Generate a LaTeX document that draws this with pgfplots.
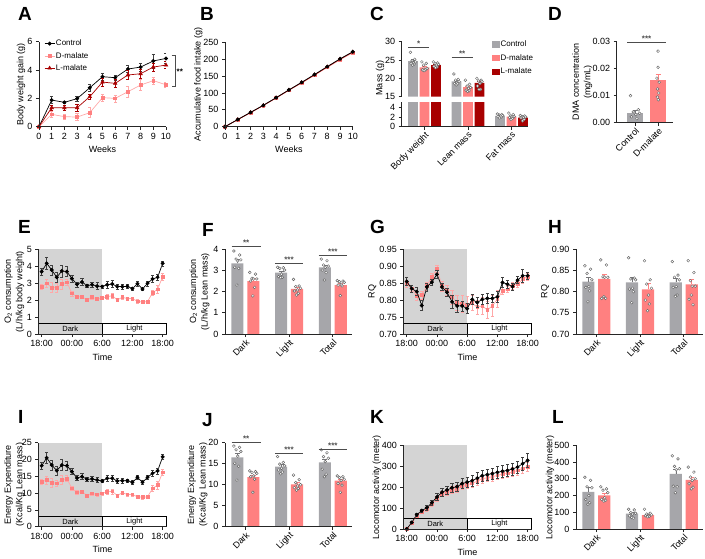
\documentclass[border=0pt]{standalone}
\usepackage{fontspec}
\setmainfont{Liberation Sans}
\usepackage{pgfplots}
\usepackage{pgfplotstable}
\pgfplotsset{compat=1.18}

\definecolor{cgrey}{RGB}{166,166,170}
\definecolor{cpink}{RGB}{255,128,128}
\definecolor{cpinkl}{RGB}{255,168,168}
\definecolor{cred}{RGB}{168,0,0}
\definecolor{cshade}{RGB}{212,212,212}

\pgfplotsset{
  gp/.style={scale only axis, axis lines*=left, axis on top, enlargelimits=false,
    axis line style={line width=0.8pt, black!85},
    tick style={line width=0.8pt, black!85},
    major tick length=3pt, tick align=outside,
    tick label style={font=\fontsize{9}{10}\selectfont},
    label style={font=\fontsize{9}{11.5}\selectfont, align=center},
    /pgf/number format/assume math mode=true,
    clip mode=individual},
  yl/.style={ylabel style={at={([xshift=-#1]rel axis cs:0,0.5)}, anchor=center}},
  tl/.style={xmin=-0.67, xmax=24.8, width=128.4pt, xtick={0,6,12,18,24},
    xticklabels={18:00,00:00,6:00,12:00,18:00}, xlabel={Time}},
  barax/.style={xmin=-0.465, xmax=2.44, width=127pt, xtick={0,1,2},
    xticklabels={Dark,Light,Total}, xticklabel style={rotate=45, anchor=north east, inner sep=1pt}},
  gbar/.style={ybar, bar shift=0pt, bar width=#1, draw=none, forget plot},
  berr/.style={/pgfplots/error bars/y dir=plus, /pgfplots/error bars/y explicit,
    /pgfplots/error bars/error bar style={line width=0.6pt, #1},
    /pgfplots/error bars/error mark options={rotate=90, mark size=2.5pt, line width=0.6pt, #1}},
  pts/.style={only marks, mark=*, mark size=1.4pt, mark options={fill=white, draw=black!60, line width=0.45pt}, forget plot},
  ctrl/.style={black, line width=0.7pt, mark=*, mark size=1.6pt, mark options={solid, fill=black},
    /pgfplots/error bars/y dir=both, /pgfplots/error bars/y explicit,
    /pgfplots/error bars/error bar style={line width=0.5pt, black!75},
    /pgfplots/error bars/error mark options={rotate=90, mark size=1.6pt, line width=0.5pt, black!75}},
  dmal/.style={cpinkl, line width=0.7pt, mark=square*, mark size=1.4pt, mark options={solid, fill=cpink, draw=cpink},
    /pgfplots/error bars/y dir=both, /pgfplots/error bars/y explicit,
    /pgfplots/error bars/error bar style={line width=0.5pt, cpinkl},
    /pgfplots/error bars/error mark options={rotate=90, mark size=1.6pt, line width=0.5pt, cpinkl}},
  lmal/.style={cred, line width=0.7pt, mark=triangle*, mark size=1.9pt, mark options={solid, fill=cred, draw=cred},
    /pgfplots/error bars/y dir=both, /pgfplots/error bars/y explicit,
    /pgfplots/error bars/error bar style={line width=0.5pt, cred},
    /pgfplots/error bars/error mark options={rotate=90, mark size=1.6pt, line width=0.5pt, cred}},
}

\newcommand{\sig}[4]{\draw[line width=0.6pt, black!70] (axis cs:#1,#3) -- (axis cs:#2,#3) node[midway, above, inner sep=0.5pt, font=\fontsize{8}{8}\selectfont\bfseries] {#4};}
\newcommand{\dlbox}[4]{%
  \fill[cshade] (axis cs:-0.67,#2) rectangle (axis cs:12,#3);
  \draw[line width=0.7pt, fill=cshade] (axis cs:-0.67,#1) rectangle (axis cs:12,#2);
  \draw[line width=0.7pt, fill=white] (axis cs:12,#1) rectangle (axis cs:24.8,#2);
  \node[font=\fontsize{7.5}{8}\selectfont, inner sep=0pt] at (axis cs:5.67,#4) {Dark};
  \node[font=\fontsize{7.5}{8}\selectfont, inner sep=0pt] at (axis cs:18.4,#4) {Light};}

\pgfplotstableread{
x c ce d de l le
0 0 0 0 0 0 0
1 1.88 0.25 0.87 0.2 1.34 0.15
2 1.72 0.10 0.71 0.2 1.34 0.2
3 1.98 0.15 0.68 0.25 1.34 0.25
4 2.75 0.25 0.99 0.35 2.12 0.2
5 3.53 0.25 2.05 0.25 3.15 0.3
6 3.46 0.20 2.00 0.25 3.06 0.3
7 4.07 0.25 2.47 0.4 3.65 0.3
8 4.21 0.30 2.94 0.4 3.74 0.3
9 4.64 0.50 3.25 0.25 4.21 0.3
10 4.82 0.35 2.96 0.2 4.35 0.25
}\tabA

\pgfplotstableread{
x c d l
0 0 0 0
1 21.5 20.8 21.0
2 42.5 41.5 42.0
3 63.5 62.5 63.0
4 86 84.5 85.5
5 109 107.5 108.5
6 131.5 129.5 130.5
7 154.5 152 153.5
8 178 175.5 177
9 201 198 200
10 222 219 221
}\tabB

\pgfplotstableread{
x c ce d de
0 3.68 0.2 2.80 0.15
1 4.17 0.35 2.99 0.25
2 3.78 0.3 2.74 0.3
3 3.35 0.3 2.74 0.25
4 3.72 0.35 2.95 0.3
5 3.68 0.3 3.05 0.2
6 3.27 0.2 2.40 0.15
7 2.93 0.15 2.20 0.1
8 3.07 0.2 2.20 0.1
9 2.85 0.1 2.01 0.1
10 2.91 0.15 2.17 0.1
11 2.83 0.2 2.07 0.1
12 2.80 0.1 2.13 0.1
13 2.91 0.2 2.20 0.15
14 2.95 0.2 2.26 0.15
15 2.80 0.15 2.01 0.1
16 2.80 0.15 2.17 0.1
17 2.81 0.1 2.09 0.1
18 2.68 0.1 2.09 0.1
19 2.97 0.15 1.93 0.1
20 2.66 0.1 1.89 0.1
21 2.99 0.15 1.91 0.1
22 3.25 0.2 2.44 0.15
23 3.35 0.2 2.64 0.25
24 4.17 0.15 3.39 0.2
}\tabE

\pgfplotstableread{
x c ce d de
0 0.855 0.012 0.848 0.010
1 0.834 0.010 0.835 0.010
2 0.825 0.012 0.812 0.012
3 0.784 0.015 0.815 0.012
4 0.839 0.012 0.842 0.012
5 0.853 0.010 0.869 0.010
6 0.876 0.012 0.893 0.010
7 0.839 0.010 0.842 0.015
8 0.823 0.012 0.830 0.015
9 0.795 0.018 0.808 0.020
10 0.783 0.018 0.793 0.022
11 0.783 0.015 0.788 0.025
12 0.775 0.015 0.786 0.025
13 0.802 0.015 0.791 0.022
14 0.793 0.015 0.779 0.020
15 0.802 0.015 0.783 0.025
16 0.805 0.015 0.771 0.025
17 0.805 0.012 0.783 0.030
18 0.810 0.015 0.803 0.025
19 0.852 0.015 0.827 0.010
20 0.847 0.012 0.832 0.010
21 0.840 0.010 0.842 0.010
22 0.859 0.010 0.847 0.010
23 0.872 0.020 0.862 0.012
24 0.872 0.010 0.869 0.010
}\tabG

\pgfplotstableread{
x c ce d de
0 18.15 1.0 13.4 0.7
1 20.5 1.6 13.9 1.2
2 18.35 1.5 13.1 1.3
3 16.7 1.4 12.9 1.0
4 18.35 1.6 13.9 1.4
5 18.15 1.4 14.3 0.9
6 16.4 0.9 11.4 0.7
7 14.5 0.8 10.2 0.5
8 14.9 0.9 10.4 0.5
9 14.1 0.5 9.3 0.5
10 14.2 0.7 9.9 0.5
11 13.9 0.8 9.6 0.5
12 13.6 0.5 9.9 0.5
13 14.4 0.9 10.4 0.7
14 14.4 0.9 10.5 0.7
15 13.6 0.7 9.3 0.5
16 13.7 0.7 10.1 0.5
17 13.7 0.5 9.6 0.5
18 13.2 0.5 9.6 0.5
19 14.7 0.7 8.9 0.5
20 13.2 0.5 8.8 0.5
21 14.7 0.7 8.9 0.5
22 15.9 0.9 11.4 0.8
23 16.6 0.9 12.4 1.2
24 20.8 0.8 16.2 0.9
}\tabI

\pgfplotstableread{
x c ce d de
0 0 0 0 0
1 31 4 30 3
2 68 6 64 5
3 88 8 82 6
4 102 10 95 8
5 126 13 118 10
6 153 16 145 12
7 176 18 168 13
8 186 20 177 14
9 197 22 187 15
10 202 23 192 16
11 217 24 206 17
12 224 25 212 17
13 231 25 218 18
14 243 26 229 18
15 255 26 240 19
16 260 27 245 19
17 265 27 250 20
18 271 27 256 20
19 276 28 262 21
20 280 28 266 21
21 287 29 272 21
22 296 30 280 22
23 312 30 290 23
24 328 32 298 23
}\tabK

\begin{document}
\begin{tikzpicture}
\useasboundingbox (0pt,0pt) rectangle (705pt,558pt);

% ---------------- A
\begin{axis}[gp, yl=18pt, at={(39pt,431.3pt)}, anchor=south west, width=127pt, height=85pt,
  xmin=0, xmax=10, ymin=0, ymax=6, xtick={0,...,10}, ytick={0,2,4,6},
  xlabel={Weeks}, ylabel={Body weight gain (g)},
  legend style={at={(0.04,1.035)}, anchor=north west, draw=none, fill=none,
    font=\fontsize{8}{8.5}\selectfont, row sep=3pt, inner sep=0pt, nodes={inner sep=1pt}},
  legend cell align=left,
  legend image code/.code={\draw[mark repeat=2,mark phase=2,#1] plot coordinates {(0pt,0pt) (5pt,0pt) (10pt,0pt)};}]
\addplot[ctrl] table[x=x,y=c,y error=ce]{\tabA}; \addlegendentry{Control}
\addplot[dmal] table[x=x,y=d,y error=de]{\tabA}; \addlegendentry{D-malate}
\addplot[lmal] table[x=x,y=l,y error=le]{\tabA}; \addlegendentry{L-malate}
\draw[line width=0.6pt, black!70] (axis cs:10.45,5.06) -- (axis cs:10.7,5.06) -- (axis cs:10.7,2.87) -- (axis cs:10.45,2.87);
\node[anchor=west, inner sep=1pt, font=\fontsize{8}{8}\selectfont\bfseries] at (axis cs:10.75,3.9) {**};
\end{axis}

% ---------------- B
\begin{axis}[gp, yl=26.7pt, at={(225pt,431.3pt)}, anchor=south west, width=127.8pt, height=84.4pt,
  xmin=0, xmax=10, ymin=0, ymax=250, xtick={0,...,10}, ytick={0,50,...,250},
  xlabel={Weeks}, ylabel={Accumulative food intake (g)}]
\addplot[cpinkl, line width=0.7pt, mark=square*, mark size=1.4pt, mark options={fill=cpink, draw=cpink}] table[x=x,y=d]{\tabB};
\addplot[cred, line width=0.7pt, mark=triangle*, mark size=1.8pt, mark options={fill=cred}] table[x=x,y=l]{\tabB};
\addplot[black, line width=0.7pt, mark=*, mark size=1.6pt] table[x=x,y=c]{\tabB};
\end{axis}

% ---------------- C lower
\begin{axis}[gp, at={(401.7pt,431.3pt)}, anchor=south west, width=126.3pt, height=24.3pt,
  xmin=-0.524, xmax=2.38, ymin=0, ymax=5, ytick={0,2,4}, xtick={0,1,2},
  xticklabels={Body weight, Lean mass, Fat mass},
  xticklabel style={rotate=45, anchor=north east, inner sep=1pt}]
\addplot[gbar=0.223, fill=cgrey, berr=cgrey!70!black] coordinates {(-0.264,24.7) +- (0,0.4) (0.736,19.2) +- (0,0.35) (1.736,2.24) +- (0,0.1)};
\addplot[gbar=0.223, fill=cpink, berr=cpink] coordinates {(0,23.0) +- (0,0.3) (1,17.6) +- (0,0.35) (2,2.09) +- (0,0.15)};
\addplot[gbar=0.223, fill=cred, berr=cred] coordinates {(0.264,23.6) +- (0,0.2) (1.264,18.8) +- (0,0.4) (2.264,1.88) +- (0,0.12)};
\addplot[pts] coordinates {(1.676,2.6) (1.776,2.5) (1.716,2.4) (1.796,2.3) (1.746,2.2) (1.691,2.1) (1.761,2.0) (1.726,1.8)
  (1.94,2.8) (2.04,2.5) (1.98,2.2) (2.06,2.1) (2.01,2.0) (1.955,1.9) (2.025,1.7) (1.99,1.5)
  (2.204,2.3) (2.304,2.2) (2.244,2.1) (2.324,2.0) (2.274,1.9) (2.219,1.8) (2.289,1.5) (2.254,1.2)};
\end{axis}

% ---------------- C upper
\begin{axis}[gp, axis x line=none, axis y line*=left, at={(401.7pt,461.3pt)}, anchor=south west, width=126.3pt, height=55pt,
  xmin=-0.524, xmax=2.38, ymin=15, ymax=30, ytick={15,20,25,30},
  ylabel={Mass (g)}, ylabel style={at={([xshift=-21.7pt]rel axis cs:0,0.34)}, anchor=center},
  legend style={at={(0.715,1.045)}, anchor=north west, draw=none, fill=none,
    font=\fontsize{8}{8.5}\selectfont, row sep=4.5pt, inner sep=0pt, nodes={inner sep=1pt}},
  legend cell align=left]
\addlegendimage{legend image code/.code={\fill[cgrey] (0pt,-2.8pt) rectangle (7pt,2.8pt);}}
\addlegendentry{Control}
\addlegendimage{legend image code/.code={\fill[cpink] (0pt,-2.8pt) rectangle (7pt,2.8pt);}}
\addlegendentry{D-malate}
\addlegendimage{legend image code/.code={\fill[cred] (0pt,-2.8pt) rectangle (7pt,2.8pt);}}
\addlegendentry{L-malate}
\addplot[gbar=0.223, fill=cgrey, berr=cgrey!70!black] coordinates {(-0.264,24.7) +- (0,0.4) (0.736,19.2) +- (0,0.35)};
\addplot[gbar=0.223, fill=cpink, berr=cpink] coordinates {(0,23.0) +- (0,0.3) (1,17.6) +- (0,0.35)};
\addplot[gbar=0.223, fill=cred, berr=cred] coordinates {(0.264,23.6) +- (0,0.2) (1.264,18.8) +- (0,0.4)};
\addplot[pts] coordinates {(-0.324,27.1) (-0.224,25.2) (-0.284,24.8) (-0.204,24.5) (-0.254,24.3) (-0.309,24.1) (-0.239,23.9) (-0.274,23.6)
  (-0.06,24.5) (0.04,24.1) (-0.02,23.6) (0.06,22.7) (0.01,22.5) (-0.045,22.3) (0.025,22.3) (-0.01,22.1)
  (0.204,24.5) (0.304,24.2) (0.244,24.0) (0.324,23.8) (0.274,23.6) (0.219,23.3) (0.289,23.1) (0.254,22.9)
  (0.676,21.2) (0.776,19.7) (0.716,19.5) (0.796,19.1) (0.746,18.8) (0.691,18.6) (0.761,18.5) (0.726,18.2)
  (0.94,19.5) (1.04,18.4) (0.98,17.9) (1.06,17.5) (1.01,17.3) (0.955,16.8) (1.025,16.6) (0.99,16.4)
  (1.204,20.0) (1.304,19.5) (1.244,19.3) (1.324,19.1) (1.274,18.6) (1.219,17.9) (1.289,17.0) (1.254,17.0)};
\sig{-0.375}{0.111}{28.45}{*}
\sig{0.625}{1.111}{25.7}{**}
\end{axis}

% ---------------- D
\begin{axis}[gp, yl=34.5pt, at={(616.7pt,435.3pt)}, anchor=south west, width=56.3pt, height=81pt,
  xmin=-0.8, xmax=1.65, ymin=0, ymax=0.03, ytick={0,0.01,0.02,0.03}, scaled y ticks=false,
  yticklabel style={/pgf/number format/.cd, fixed, fixed zerofill, precision=2},
  xtick={0,1}, xticklabels={Control, D-malate},
  xticklabel style={rotate=45, anchor=north east, inner sep=1pt},
  ylabel={DMA concentration\\(mg/mL)}]
\addplot[gbar=0.7, fill=cgrey, berr=cgrey!70!black] coordinates {(0,0.0035) +- (0,0.0012)};
\addplot[gbar=0.7, fill=cpink, berr=cpink] coordinates {(1,0.0158) +- (0,0.0020)};
\addplot[pts] coordinates {(-0.2,0.010) (0.14,0.0048) (-0.08,0.0040) (0.2,0.0035) (0.03,0.0030) (-0.16,0.0022) (0.08,0.0015) (-0.03,-0.0009)
  (1.0,0.0265) (1.0,0.0205) (0.95,0.0165) (1.05,0.0150) (0.98,0.0125) (1.03,0.0110) (0.97,0.0095) (1.01,0.0085)};
\sig{-0.35}{1.35}{0.0299}{***}
\end{axis}

% ---------------- E
\begin{axis}[gp, tl, yl=24pt, at={(38.3pt,224pt)}, anchor=south west, height=84.7pt,
  ymin=0, ymax=5, ytick={0,...,5},
  ylabel={O\textsubscript{2} consumption\\(L/h/kg body weight)}]
\dlbox{0}{0.6}{5}{0.3}
\addplot[dmal] table[x=x,y=d,y error=de]{\tabE};
\addplot[ctrl] table[x=x,y=c,y error=ce]{\tabE};
\end{axis}

% ---------------- F
\begin{axis}[gp, barax, yl=25.5pt, at={(225pt,224pt)}, anchor=south west, height=84.7pt,
  ymin=0, ymax=4, ytick={0,...,4},
  ylabel={O\textsubscript{2} consumption\\(L/h/kg Lean mass)}]
\addplot[gbar=0.276, fill=cgrey, berr=cgrey!70!black] coordinates {(-0.182,3.34) +- (0,0.18) (0.818,2.90) +- (0,0.07) (1.818,3.15) +- (0,0.11)};
\addplot[gbar=0.276, fill=cpink, berr=cpink] coordinates {(0.182,2.50) +- (0,0.12) (1.182,2.13) +- (0,0.09) (2.182,2.31) +- (0,0.08)};
\addplot[pts] coordinates {(-0.262,3.92) (-0.132,3.73) (-0.212,3.54) (-0.102,3.50) (-0.172,3.45) (-0.242,3.15) (-0.152,3.10) (-0.192,2.31)
  (0.738,3.15) (0.868,3.13) (0.788,3.10) (0.898,3.02) (0.828,2.82) (0.758,2.71) (0.848,2.68) (0.808,2.66)
  (1.738,3.54) (1.868,3.46) (1.788,3.26) (1.898,3.21) (1.828,3.15) (1.758,3.02) (1.848,2.90) (1.808,2.55)
  (0.102,2.91) (0.232,2.83) (0.152,2.63) (0.262,2.60) (0.192,2.60) (0.122,2.50) (0.212,2.20) (0.172,1.80)
  (1.102,2.58) (1.232,2.27) (1.152,2.24) (1.262,2.16) (1.192,2.08) (1.122,2.03) (1.212,1.92) (1.172,1.84)
  (2.102,2.52) (2.232,2.50) (2.152,2.47) (2.262,2.44) (2.192,2.35) (2.122,2.31) (2.212,2.27) (2.172,1.81)};
\sig{-0.315}{0.352}{4.12}{**}
\sig{0.68}{1.317}{3.34}{***}
\sig{1.676}{2.33}{3.73}{***}
\end{axis}

% ---------------- G
\begin{axis}[gp, tl, yl=31pt, at={(403.3pt,224pt)}, anchor=south west, height=84.7pt,
  ymin=0.7, ymax=0.95, ytick={0.70,0.75,...,0.96},
  yticklabel style={/pgf/number format/.cd, fixed, fixed zerofill, precision=2},
  ylabel={RQ}]
\dlbox{0.7}{0.73}{0.95}{0.715}
\addplot[dmal] table[x=x,y=d,y error=de]{\tabG};
\addplot[ctrl] table[x=x,y=c,y error=ce]{\tabG};
\end{axis}

% ---------------- H
\begin{axis}[gp, barax, yl=31pt, at={(576pt,224pt)}, anchor=south west, height=84.7pt,
  ymin=0.7, ymax=0.9, ytick={0.70,0.75,...,0.91},
  yticklabel style={/pgf/number format/.cd, fixed, fixed zerofill, precision=2},
  ylabel={RQ}]
\addplot[gbar=0.28, fill=cgrey, berr=cgrey!70!black] coordinates {(-0.182,0.8236) +- (0,0.010) (0.818,0.822) +- (0,0.012) (1.818,0.822) +- (0,0.010)};
\addplot[gbar=0.28, fill=cpink, berr=cpink] coordinates {(0.182,0.830) +- (0,0.012) (1.182,0.8055) +- (0,0.014) (2.182,0.817) +- (0,0.012)};
\addplot[pts] coordinates {(-0.262,0.861) (-0.132,0.853) (-0.212,0.843) (-0.102,0.828) (-0.172,0.812) (-0.242,0.810) (-0.152,0.802) (-0.192,0.776)
  (0.738,0.880) (0.868,0.832) (0.788,0.830) (0.898,0.828) (0.828,0.808) (0.758,0.806) (0.848,0.800) (0.808,0.774)
  (1.738,0.871) (1.868,0.839) (1.788,0.834) (1.898,0.828) (1.828,0.812) (1.758,0.810) (1.848,0.792) (1.808,0.789)
  (0.102,0.875) (0.232,0.863) (0.152,0.835) (0.262,0.834) (0.192,0.834) (0.122,0.784) (0.212,0.784) (0.172,0.788)
  (1.102,0.873) (1.232,0.828) (1.152,0.818) (1.262,0.808) (1.192,0.792) (1.122,0.780) (1.212,0.771) (1.172,0.755)
  (2.102,0.873) (2.232,0.845) (2.152,0.826) (2.262,0.813) (2.192,0.813) (2.122,0.782) (2.212,0.769) (2.172,0.792)};
\end{axis}

% ---------------- I
\begin{axis}[gp, tl, yl=24pt, at={(38.3pt,31.3pt)}, anchor=south west, height=84pt,
  ymin=0, ymax=25, ytick={0,5,...,25},
  ylabel={Energy Expenditure\\(Kcal/Kg Lean mass)}]
\dlbox{0}{3}{25}{1.5}
\addplot[dmal] table[x=x,y=d,y error=de]{\tabI};
\addplot[ctrl] table[x=x,y=c,y error=ce]{\tabI};
\end{axis}

% ---------------- J
\begin{axis}[gp, barax, yl=27.5pt, at={(225pt,31.3pt)}, anchor=south west, height=84pt,
  ymin=0, ymax=20, ytick={0,5,...,20},
  ylabel={Energy Expenditure\\(Kcal/Kg Lean mass)}]
\addplot[gbar=0.276, fill=cgrey, berr=cgrey!70!black] coordinates {(-0.182,16.5) +- (0,0.9) (0.818,14.3) +- (0,0.45) (1.818,15.3) +- (0,0.75)};
\addplot[gbar=0.276, fill=cpink, berr=cpink] coordinates {(0.182,11.8) +- (0,0.55) (1.182,10.1) +- (0,0.4) (2.182,10.95) +- (0,0.45)};
\addplot[pts] coordinates {(-0.262,19.2) (-0.132,18.9) (-0.212,18.3) (-0.102,17.9) (-0.172,16.8) (-0.242,15.1) (-0.152,14.4) (-0.192,11.1)
  (0.738,16.7) (0.868,15.3) (0.788,14.9) (0.898,14.5) (0.828,13.9) (0.758,13.5) (0.848,13.0) (0.808,12.6)
  (1.738,18.3) (1.868,17.6) (1.788,16.7) (1.898,16.3) (1.828,15.5) (1.758,13.7) (1.848,12.5) (1.808,11.9)
  (0.102,13.3) (0.232,13.1) (0.152,12.9) (0.262,12.7) (0.192,12.1) (0.122,11.9) (0.212,11.3) (0.172,8.2)
  (1.102,12.3) (1.232,11.2) (1.152,10.5) (1.262,10.0) (1.192,9.7) (1.122,9.3) (1.212,9.1) (1.172,8.7)
  (2.102,12.1) (2.232,11.9) (2.152,11.7) (2.262,11.3) (2.192,11.0) (2.122,10.3) (2.212,9.9) (2.172,8.2)};
\sig{-0.315}{0.352}{20.2}{**}
\sig{0.68}{1.317}{17.5}{***}
\sig{1.676}{2.33}{18.5}{***}
\end{axis}

% ---------------- K
\begin{axis}[gp, tl, yl=26.6pt, at={(403.3pt,29pt)}, anchor=south west, height=83.7pt,
  ymin=0, ymax=400, ytick={0,100,...,400},
  ylabel={Locomotor activity (meter)}]
\dlbox{0}{49}{400}{24.5}
\addplot[dmal] table[x=x,y=d,y error=de]{\tabK};
\addplot[ctrl] table[x=x,y=c,y error=ce]{\tabK};
\end{axis}

% ---------------- L
\begin{axis}[gp, barax, yl=26pt, at={(576pt,29pt)}, anchor=south west, height=83.7pt,
  ymin=0, ymax=500, ytick={0,100,...,500},
  ylabel={Locomotor activity (meter)}]
\addplot[gbar=0.28, fill=cgrey, berr=cgrey!70!black] coordinates {(-0.182,222) +- (0,25) (0.818,92.5) +- (0,7) (1.818,329) +- (0,28)};
\addplot[gbar=0.28, fill=cpink, berr=cpink] coordinates {(0.182,201) +- (0,11) (1.182,83) +- (0,5) (2.182,293) +- (0,15)};
\addplot[pts] coordinates {(-0.262,309) (-0.132,291) (-0.212,252) (-0.102,246) (-0.172,200) (-0.242,177) (-0.152,157) (-0.192,148)
  (0.738,118) (0.868,114) (0.788,98) (0.898,94) (0.828,89) (0.758,79) (0.848,65) (0.808,69)
  (1.738,437) (1.868,419) (1.788,374) (1.898,360) (1.828,354) (1.758,256) (1.848,252) (1.808,217)
  (0.102,252) (0.232,240) (0.152,232) (0.262,217) (0.192,187) (0.122,177) (0.212,171) (0.172,167)
  (1.102,118) (1.232,94) (1.152,89) (1.262,85) (1.192,79) (1.122,79) (1.212,75) (1.172,73)
  (2.102,370) (2.232,340) (2.152,310) (2.262,300) (2.192,290) (2.122,270) (2.212,250) (2.172,240)};
\end{axis}

% ---------------- panel letters
\begin{scope}[every node/.style={anchor=north west, inner sep=0pt, font=\fontsize{19}{19}\selectfont\bfseries}]
\node at (18pt,551pt) {A};
\node at (200pt,551pt) {B};
\node at (370pt,551pt) {C};
\node at (548pt,551pt) {D};
\node at (18pt,338pt) {E};
\node at (202pt,335pt) {F};
\node at (370pt,338pt) {G};
\node at (548pt,338pt) {H};
\node at (18pt,148pt) {I};
\node at (202pt,145pt) {J};
\node at (370pt,148pt) {K};
\node at (552pt,148pt) {L};
\end{scope}
\end{tikzpicture}
\end{document}
